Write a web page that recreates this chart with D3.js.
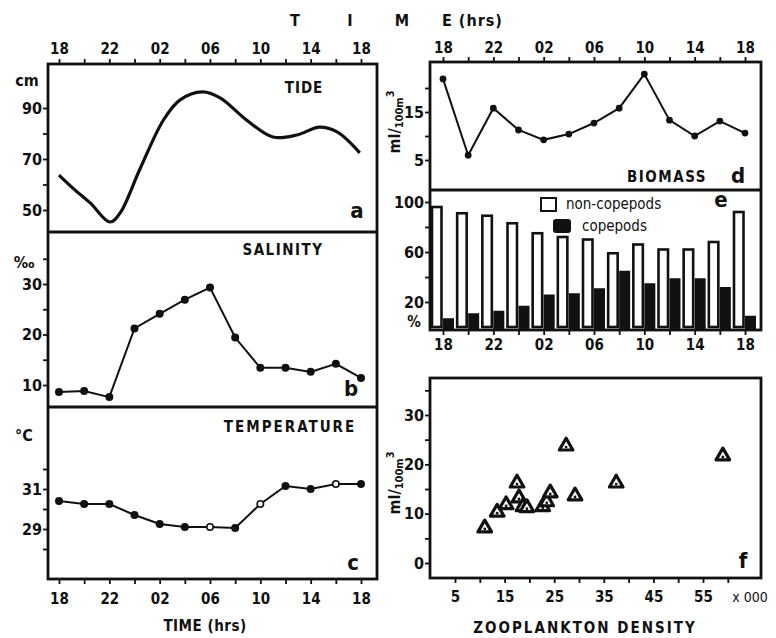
<!DOCTYPE html>
<html>
<head>
<meta charset="utf-8">
<script src="https://cdn.jsdelivr.net/npm/d3@7"></script>
<style>
body { margin: 0; background: #fff; }
text { font-family: "DejaVu Sans Condensed", "DejaVu Sans", sans-serif; fill: #111; }
</style>
</head>
<body>
<div id="main"></div>
<script>
// hours after 18:00 on the first day
var sampleHours = [0, 2, 4, 6, 8, 10, 12, 14, 16, 18, 20, 22, 24];
var tickHours = [0, 2, 4, 6, 8, 10, 12, 14, 16, 18, 20, 22, 24];
var labelHours = [0, 4, 8, 12, 16, 20, 24];
var timeLabels = ["18", "22", "02", "06", "10", "14", "18"];

// a: tide curve
var tideHours = [0, 1.1, 2.5, 4.05, 4.85, 6.4, 8.3, 9.6, 11.4, 12.8, 14.9, 17.0, 18.9, 20.7, 22.1, 23.9];
var tideCm = [63.7, 58.6, 52.7, 45.3, 48.8, 65.7, 85.3, 93.1, 96.3, 94.0, 85.3, 78.6, 79.4, 82.5, 80.6, 72.4];

// b: salinity, c: temperature, d: biomass
var salinity = [8.6, 8.8, 7.6, 21.2, 24.1, 26.9, 29.3, 19.4, 13.4, 13.4, 12.6, 14.2, 11.4];
var temperature = [30.4, 30.25, 30.25, 29.7, 29.25, 29.1, 29.1, 29.05, 30.25, 31.15, 31.0, 31.25, 31.25];
var tempOpen = [false, false, false, false, false, false, true, false, true, false, false, true, false];
var biomass = [21.9, 6.0, 15.8, 11.25, 9.2, 10.4, 12.7, 15.8, 22.9, 13.3, 10.0, 13.1, 10.6];

// e: percent composition
var nonCopepods = [96, 91, 89, 83, 75, 72, 70, 59, 66, 62, 62, 68, 92];
var copepods = [7, 11, 13, 17, 26, 27, 31, 45, 35, 39, 39, 32, 9];

// f: biomass vs zooplankton density (x 1000)
var density = [11.0, 13.5, 15.3, 17.5, 17.9, 18.7, 19.5, 22.7, 23.5, 24.2, 27.4, 29.2, 37.5, 59.0];
var densityBiomass = [7.1, 10.3, 11.8, 16.2, 13.2, 11.4, 11.2, 11.4, 12.4, 14.2, 23.7, 13.6, 16.2, 21.7];

var svg = d3.select("#main").append("svg")
    .attr("width", 776)
    .attr("height", 638);

var tL = d3.scaleLinear().domain([0, 24]).range([59, 361]);
var tR = d3.scaleLinear().domain([0, 24]).range([443, 745]);

var yA = d3.scaleLinear().domain([50, 90]).range([210, 108]);
var yB = d3.scaleLinear().domain([10, 30]).range([385, 284]);
var yC = d3.scaleLinear().domain([29, 31]).range([529, 489]);
var yD = d3.scaleLinear().domain([5, 15]).range([160, 112]);
var yE = d3.scaleLinear().domain([0, 100]).range([327, 202]);
var xF = d3.scaleLinear().domain([5, 55]).range([455, 703]);
var yF = d3.scaleLinear().domain([0, 30]).range([563, 415]);

function hourFormat(h) {
    var i = labelHours.indexOf(h);
    return i < 0 ? "" : timeLabels[i];
}

function styleAxis(size) {
    return function(g) {
        g.select(".domain").remove();
        g.selectAll(".tick line").attr("stroke", "#111").attr("stroke-width", 1.8);
        g.selectAll(".tick text").attr("font-size", size).attr("font-weight", "bold");
    };
}

function addAxis(axis, x, y, size) {
    return svg.append("g")
        .attr("transform", "translate(" + x + "," + y + ")")
        .call(axis)
        .call(styleAxis(size || 15));
}

// frames
function frame(x0, y0, x1, y1) {
    svg.append("rect")
        .attr("x", x0).attr("y", y0)
        .attr("width", x1 - x0).attr("height", y1 - y0)
        .attr("fill", "none")
        .attr("stroke", "#111")
        .attr("stroke-width", 2.8);
}
function hline(x0, x1, y) {
    svg.append("line")
        .attr("x1", x0).attr("x2", x1).attr("y1", y).attr("y2", y)
        .attr("stroke", "#111").attr("stroke-width", 2.8);
}

frame(48, 64, 377, 579);
hline(48, 377, 232);
hline(48, 377, 407);
frame(430, 62, 761, 330);
hline(430, 761, 190);
frame(430, 378, 761, 578);

// time axes
addAxis(d3.axisTop(tL).tickValues(tickHours).tickFormat(hourFormat).tickSize(5).tickPadding(5), 0, 64);
addAxis(d3.axisBottom(tL).tickValues(tickHours).tickFormat(hourFormat).tickSize(5).tickPadding(9), 0, 579);
addAxis(d3.axisTop(tR).tickValues(tickHours).tickFormat(hourFormat).tickSize(5).tickPadding(4), 0, 62);
addAxis(d3.axisBottom(tR).tickValues(tickHours).tickFormat(hourFormat).tickSize(5).tickPadding(4), 0, 330);

// value axes
function labelsOnly(list) {
    return function(v) { return list.indexOf(v) < 0 ? "" : String(v); };
}
addAxis(d3.axisLeft(yA).tickValues([50, 60, 70, 80, 90]).tickFormat(labelsOnly([50, 70, 90])).tickSize(5).tickPadding(1), 48, 0, 16);
addAxis(d3.axisLeft(yB).tickValues([10, 15, 20, 25, 30, 35]).tickFormat(labelsOnly([10, 20, 30])).tickSize(5).tickPadding(1), 48, 0, 16);
addAxis(d3.axisLeft(yC).tickValues([28, 29, 30, 31, 32]).tickFormat(labelsOnly([29, 31])).tickSize(5).tickPadding(1), 48, 0, 16);
addAxis(d3.axisLeft(yD).tickValues([5, 10, 15, 20]).tickFormat(labelsOnly([5, 15])).tickSize(5).tickPadding(1), 430, 0, 16);
addAxis(d3.axisLeft(yE).tickValues([20, 40, 60, 80, 100]).tickFormat(labelsOnly([20, 60, 100])).tickSize(5).tickPadding(1), 430, 0, 16);
addAxis(d3.axisLeft(yF).tickValues([0, 5, 10, 15, 20, 25, 30, 35]).tickFormat(labelsOnly([0, 10, 20, 30])).tickSize(5).tickPadding(1), 430, 0, 16);
addAxis(d3.axisBottom(xF).tickValues([5, 10, 15, 20, 25, 30, 35, 40, 45, 50, 55, 60]).tickFormat(labelsOnly([5, 15, 25, 35, 45, 55])).tickSize(5).tickPadding(8), 0, 578);

// a: tide
svg.append("path")
    .datum(tideHours.map(function(h, i) { return [h, tideCm[i]]; }))
    .attr("fill", "none")
    .attr("stroke", "#111")
    .attr("stroke-width", 3.2)
    .attr("d", d3.line()
        .curve(d3.curveCatmullRom)
        .x(function(d) { return tL(d[0]); })
        .y(function(d) { return yA(d[1]); }));

// line + dot series
function series(values, xs, ys, r, openFlags) {
    var pts = sampleHours.map(function(h, i) { return [h, values[i], openFlags ? openFlags[i] : false]; });
    svg.append("path")
        .datum(pts)
        .attr("fill", "none")
        .attr("stroke", "#111")
        .attr("stroke-width", 2)
        .attr("d", d3.line()
            .x(function(d) { return xs(d[0]); })
            .y(function(d) { return ys(d[1]); }));
    svg.append("g").selectAll("circle")
        .data(pts)
        .enter()
        .append("circle")
        .attr("cx", function(d) { return xs(d[0]); })
        .attr("cy", function(d) { return ys(d[1]); })
        .attr("r", r)
        .attr("fill", function(d) { return d[2] ? "#fff" : "#111"; })
        .attr("stroke", "#111")
        .attr("stroke-width", 1.6);
}
series(salinity, tL, yB, 3.2);
series(temperature, tL, yC, 3.2, tempOpen);
series(biomass, tR, yD, 2.6);

// e: bars
var barW = 11;
svg.append("g").selectAll("rect")
    .data(sampleHours)
    .enter()
    .append("rect")
    .attr("x", function(h) { return tR(h) - barW; })
    .attr("y", function(h, i) { return yE(nonCopepods[i]); })
    .attr("width", barW - 1.5)
    .attr("height", function(h, i) { return yE(0) - yE(nonCopepods[i]); })
    .attr("fill", "#fff")
    .attr("stroke", "#111")
    .attr("stroke-width", 2.6);
svg.append("g").selectAll("rect")
    .data(sampleHours)
    .enter()
    .append("rect")
    .attr("x", function(h) { return tR(h); })
    .attr("y", function(h, i) { return yE(copepods[i]); })
    .attr("width", barW)
    .attr("height", function(h, i) { return yE(0) - yE(copepods[i]) + 2; })
    .attr("fill", "#111");

// f: triangles
var tri = d3.symbol().type(d3.symbolTriangle).size(80);
var pts = svg.append("g").selectAll("g")
    .data(density.map(function(d, i) { return [d, densityBiomass[i]]; }))
    .enter()
    .append("g")
    .attr("transform", function(d) { return "translate(" + xF(d[0]) + "," + yF(d[1]) + ")"; });
pts.append("path")
    .attr("d", tri)
    .attr("fill", "#fff")
    .attr("stroke", "#111")
    .attr("stroke-width", 3.2)
    .attr("stroke-linejoin", "round");
pts.append("circle").attr("r", 1.4).attr("cy", 1).attr("fill", "#111");

// texts
function label(x, y, str, size, anchor, spacing, weight) {
    return svg.append("text")
        .attr("x", x).attr("y", y)
        .attr("dominant-baseline", "central")
        .attr("text-anchor", anchor || "middle")
        .attr("font-size", size)
        .attr("letter-spacing", spacing || 0)
        .attr("font-weight", weight || "bold")
        .text(str);
}
label(295, 20, "T", 16);
label(350, 20, "I", 16);
label(402, 20, "M", 16);
label(442, 20, "E (hrs)", 16, "start", 1);

label(304, 88, "TIDE", 15, "middle", 1);
label(283, 250, "SALINITY", 15, "middle", 1.5);
label(290, 427, "TEMPERATURE", 15, "middle", 2);
label(667, 177, "BIOMASS", 15, "middle", 1.5);

label(27, 80, "cm", 16);
label(24, 262, "‰", 16);
label(24, 435, "°C", 16);

label(357, 210, "a", 22);
label(351, 388, "b", 22);
label(353, 562, "c", 22);
label(738, 175, "d", 22);
label(721, 199, "e", 22);
label(743, 560, "f", 22);

label(205, 626, "TIME (hrs)", 15, "middle", 0.5);
label(585, 628, "ZOOPLANKTON  DENSITY", 15, "middle", 2);
label(750, 597, "x 000", 14, "middle", 0, "normal");

// legend
svg.append("rect").attr("x", 541).attr("y", 198).attr("width", 15).attr("height", 13)
    .attr("fill", "#fff").attr("stroke", "#111").attr("stroke-width", 2);
svg.append("rect").attr("x", 553).attr("y", 219).attr("width", 18).attr("height", 14).attr("rx", 3)
    .attr("fill", "#111");
label(566, 204, "non-copepods", 15, "start", 0, "normal");
label(582, 226, "copepods", 15, "start", 0, "normal");
label(414, 322, "%", 15);

// rotated unit labels
function unitLabel(x, y) {
    var t = svg.append("text")
        .attr("transform", "translate(" + x + "," + y + ") rotate(-90)")
        .attr("text-anchor", "middle")
        .attr("font-size", 16)
        .attr("font-weight", "bold");
    t.append("tspan").text("ml/");
    t.append("tspan").attr("font-size", 11).attr("dy", 3).text("100m");
    t.append("tspan").attr("font-size", 11).attr("dy", -9).text("3");
}
unitLabel(400, 122);
unitLabel(400, 483);
</script>
</body>
</html>
